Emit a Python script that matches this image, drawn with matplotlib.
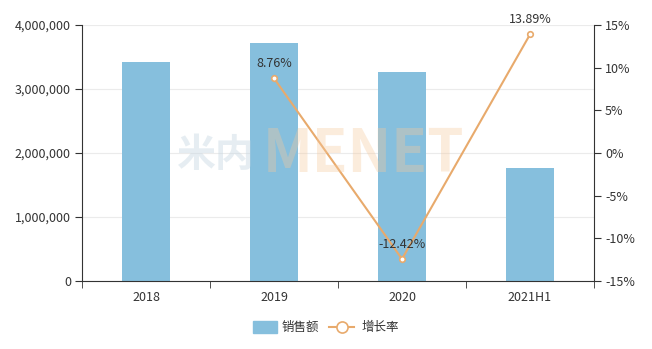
import matplotlib.pyplot as plt
from matplotlib.ticker import FuncFormatter, FixedLocator
import numpy as np

plt.rcParams['font.family'] = ['Noto Sans CJK SC', 'DejaVu Sans']

categories = ['2018', '2019', '2020', '2021H1']
sales = [3420000, 3720000, 3265000, 1765000]
growth = [None, 8.76, -12.42, 13.89]

bar_color = '#86bfdd'
line_color = '#e8aa6c'
text_color = '#333333'

fig = plt.figure(figsize=(6.52, 3.49), dpi=100)
ax = fig.add_axes([82 / 652, 68 / 349, 512 / 652, 256 / 349])
ax2 = ax.twinx()

x = np.arange(len(categories))
ax.bar(x, sales, width=0.375, color=bar_color, zorder=2)
ax.set_xlim(-0.5, len(categories) - 0.5)
ax.set_ylim(0, 4000000)
ax.set_yticks(np.arange(0, 4000001, 1000000))
ax.yaxis.set_major_formatter(FuncFormatter(lambda v, p: f'{int(v):,}'))
ax.grid(axis='y', color='#ebebeb', linewidth=0.8, zorder=0)
ax.set_axisbelow(True)

ax.set_xticks(x)
ax.set_xticklabels(categories)
ax.xaxis.set_minor_locator(FixedLocator(np.arange(-0.5, len(categories), 1)))
ax.tick_params(axis='x', which='major', length=0, pad=7, labelsize=9, labelcolor=text_color)
ax.tick_params(axis='x', which='minor', length=5, color=text_color)
ax.tick_params(axis='y', length=5, color=text_color, labelsize=9, labelcolor=text_color, pad=3)

for s in ['top', 'right']:
    ax.spines[s].set_visible(False)
ax.spines['left'].set_color(text_color)
ax.spines['bottom'].set_color(text_color)

gx = [i for i, g in enumerate(growth) if g is not None]
gy = [g for g in growth if g is not None]
ax2.plot(gx, gy, color=line_color, linewidth=1.5, marker='o', markersize=4,
         markerfacecolor='white', markeredgecolor=line_color, markeredgewidth=1.2, zorder=3)
for xi, yi in zip(gx, gy):
    ax2.annotate(f'{yi:.2f}%', (xi, yi), xytext=(0, 6), textcoords='offset points',
                 ha='center', va='bottom', fontsize=9, color=text_color)
ax2.set_ylim(-15, 15)
ax2.set_yticks(np.arange(-15, 16, 5))
ax2.yaxis.set_major_formatter(FuncFormatter(lambda v, p: f'{int(v)}%'))
ax2.tick_params(axis='y', length=5, color=text_color, labelsize=9, labelcolor=text_color, pad=3)
for s in ['top', 'left', 'bottom']:
    ax2.spines[s].set_visible(False)
ax2.spines['right'].set_color(text_color)

# watermark
fig.text(176 / 652, 1 - 155 / 349, '米内', fontsize=28, fontweight='bold', color='#c9d9e3', alpha=0.45,
         ha='left', va='center', zorder=10)
fig.text(263 / 652, 1 - 155 / 349, 'MENET', fontsize=42, fontweight='bold', color='#f6c99d', alpha=0.35,
         ha='left', va='center', zorder=10)

# legend
fig.patches.append(plt.Rectangle((253 / 652, 1 - 333 / 349), 24 / 652, 12 / 349,
                                 transform=fig.transFigure, color=bar_color, figure=fig))
fig.text(282 / 652, 1 - 327 / 349, '销售额', fontsize=9, color=text_color, va='center')
fig.lines.append(plt.Line2D([329 / 652, 354 / 652], [1 - 327 / 349] * 2, transform=fig.transFigure,
                            color=line_color, linewidth=1.5, figure=fig))
fig.lines.append(plt.Line2D([341.5 / 652], [1 - 327 / 349], transform=fig.transFigure,
                            color=line_color, marker='o', markersize=8, markerfacecolor='white',
                            markeredgewidth=1.2, linestyle='none', figure=fig))
fig.text(362 / 652, 1 - 327 / 349, '增长率', fontsize=9, color=text_color, va='center')

fig.savefig('out.png', dpi=100)
